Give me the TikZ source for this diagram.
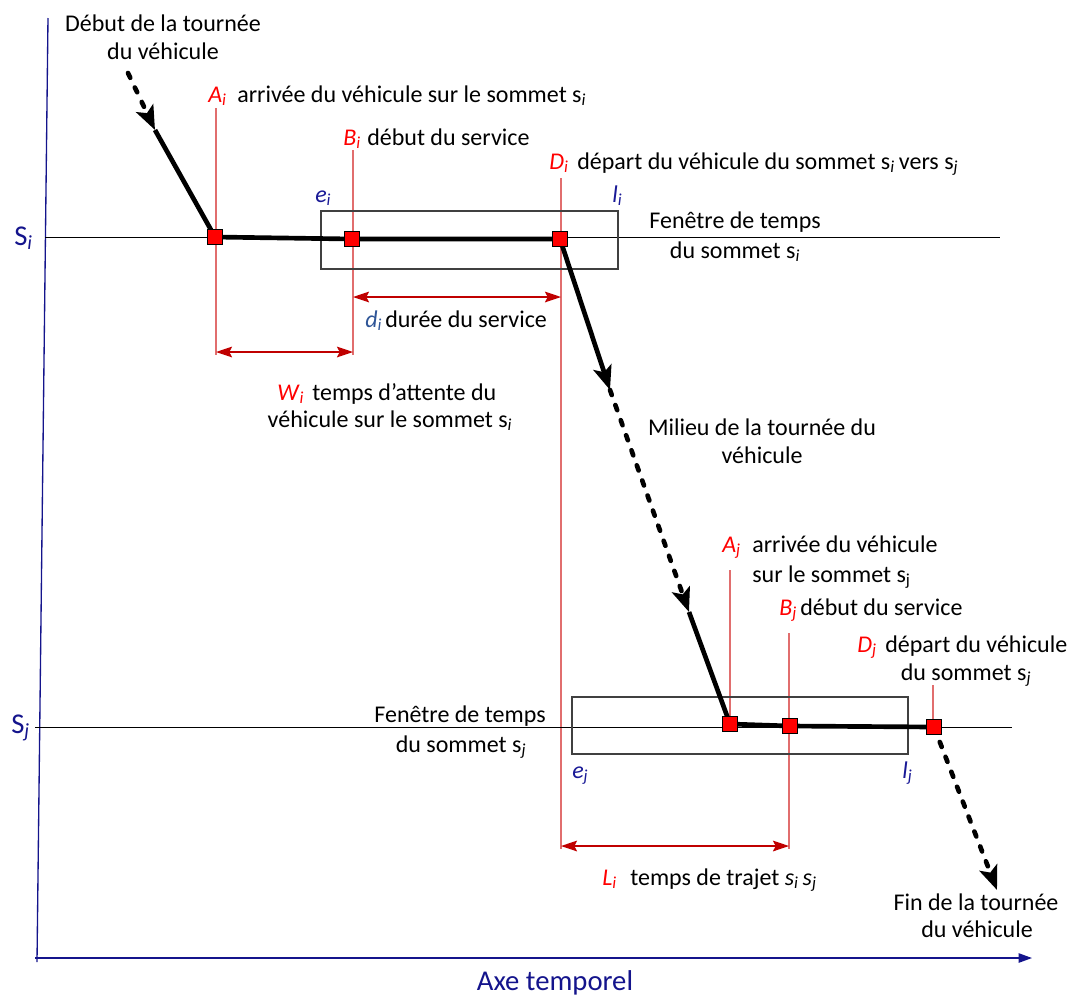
\documentclass[tikz,border=0pt]{standalone}
\usepackage{fontspec}
\setmainfont{Carlito}
\usetikzlibrary{arrows.meta}
\definecolor{axisblue}{RGB}{20,20,140}
\definecolor{lblue}{RGB}{25,25,150}
\definecolor{dblue}{RGB}{47,85,151}
\definecolor{lred}{RGB}{255,0,0}
\definecolor{guidered}{RGB}{225,110,110}
\definecolor{dimred}{RGB}{192,0,0}
\newcommand{\vsub}[2]{\textit{#1}\textsubscript{\textit{#2}}}
\pgfdeclarelayer{background}
\pgfsetlayers{background,main}
\begin{document}
\begin{tikzpicture}[x=0.75pt,y=-0.75pt,
  txt/.style={inner sep=0pt, font=\fontsize{18}{21}\selectfont},
  big/.style={inner sep=0pt, font=\fontsize{21.5}{25}\selectfont, text=axisblue},
  sq/.style={draw=black, fill=red, minimum size=11.5pt, inner sep=0pt, line width=0.8pt},
  route/.style={line width=3.5pt},
  dashroute/.style={line width=3.5pt, dash pattern=on 4pt off 8pt, line cap=round},
  tipb/.style={-{Stealth[length=18pt,width=14pt,inset=4pt]}},
  guide/.style={draw=guidered, line width=0.8pt},
  dim/.style={draw=dimred, line width=1.3pt, {Stealth[length=12pt,width=8pt,inset=2pt]}-{Stealth[length=12pt,width=8pt,inset=2pt]}},
  win/.style={draw=black!75, line width=0.8pt},
  axis/.style={draw=axisblue, line width=1pt},
  level/.style={draw=black, line width=0.7pt}]
\useasboundingbox (0,0) rectangle (1070,997);

% squares (events)
\node[sq] (Ai) at (215,237) {};
\node[sq] (Bi) at (352,239) {};
\node[sq] (Di) at (560,239) {};
\node[sq] (Aj) at (730,724) {};
\node[sq] (Bj) at (790,726) {};
\node[sq] (Dj) at (934,727) {};

% helper coordinates
\coordinate (S0) at (128,73);
\coordinate (T0) at (155,130);
\coordinate (M1) at (610,390);
\coordinate (M2) at (689,612);
\coordinate (E0) at (997,890);

\begin{pgfonlayer}{background}
% axes
\coordinate (Otop) at (48,18);
\coordinate (Obot) at (37,962);
\coordinate (Xl) at (35,958);
\coordinate (Xr) at (1032,958);
\draw[axis] (Otop) -- (Obot);
\draw[axis, -{Triangle[length=10pt,width=7pt]}] (Xl) -- (Xr);
% guide lines
\coordinate (gAi1) at (216,108); \coordinate (gAi2) at (216,355);
\coordinate (gBi1) at (353,150); \coordinate (gBi2) at (353,355);
\coordinate (gDi1) at (561,178); \coordinate (gDi2) at (561,849);
\coordinate (gAj1) at (730,570); \coordinate (gAj2) at (730,724);
\coordinate (gBj1) at (789,633); \coordinate (gBj2) at (789,849);
\coordinate (gDj1) at (933,685); \coordinate (gDj2) at (933,727);
\draw[guide] (gAi1) -- (gAi2);
\draw[guide] (gBi1) -- (gBi2);
\draw[guide] (gDi1) -- (gDi2);
\draw[guide] (gAj1) -- (gAj2);
\draw[guide] (gBj1) -- (gBj2);
\draw[guide] (gDj1) -- (gDj2);
% level lines
\coordinate (Li1) at (45,237); \coordinate (Li2) at (1000,237);
\coordinate (Lj1) at (35,727); \coordinate (Lj2) at (1012,727);
\draw[level] (Li1) -- (Li2);
\draw[level] (Lj1) -- (Lj2);
% time windows
\draw[win] (321,211) rectangle (618,269);
\draw[win] (572,697) rectangle (908,754);
% route
\draw[dashroute, tipb] (S0) -- (T0);
\draw[route] (T0) -- (Ai.center);
\draw[route] (Ai.center) -- (Bi.center) -- (Di.center);
\draw[route, tipb] (Di.center) -- (M1);
\draw[dashroute, tipb] (M1) -- (M2);
\draw[route] (M2) -- (Aj.center);
\draw[route] (Aj.center) -- (Bj.center) -- (Dj.center);
\draw[dashroute, tipb] (Dj.center) -- (E0);
\end{pgfonlayer}

% dimension arrows
\coordinate (wA) at (216,352); \coordinate (wB) at (353,352);
\coordinate (dA) at (353,297); \coordinate (dB) at (561,297);
\coordinate (lA) at (561,846); \coordinate (lB) at (789,846);
\draw[dim] (wA) -- (wB);
\draw[dim] (dA) -- (dB);
\draw[dim] (lA) -- (lB);

% texts
\node[txt, anchor=base] (deb1) at (163,31) {Début de la tournée};
\node[txt, anchor=base] (deb2) at (163,59) {du véhicule};

\node[txt, anchor=base west, text=lred] (lAi) at (208,102) {\vsub{A}{i}};
\node[txt, anchor=base west] (tAi) at (237,102) {arrivée du véhicule sur le sommet s\textsubscript{\textit{i}}};
\node[txt, anchor=base west, text=lred] (lBi) at (343,145) {\vsub{B}{i}};
\node[txt, anchor=base west] (tBi) at (367,145) {début du service};
\node[txt, anchor=base west, text=lred] (lDi) at (549,169) {\vsub{D}{i}};
\node[txt, anchor=base west] (tDi) at (577,169) {départ du véhicule du sommet s\textsubscript{\textit{i}}\,vers s\textsubscript{\textit{j}}};

\node[txt, anchor=base west, text=lblue] (ei) at (315,202) {\vsub{e}{i}};
\node[txt, anchor=base west, text=lblue] (li) at (612,202) {\vsub{l}{i}};

\node[txt, anchor=base] (fi1) at (735,228) {Fenêtre de temps};
\node[txt, anchor=base] (fi2) at (735,258) {du sommet s\textsubscript{\textit{i}}};

\node[txt, anchor=base west, text=dblue] (ldi) at (365,327) {\vsub{d}{i}};
\node[txt, anchor=base west] (tdi) at (385,327) {durée du service};

\node[txt, anchor=base west, text=lred] (lWi) at (277,400) {\vsub{W}{i}};
\node[txt, anchor=base west] (tWi1) at (312,400) {temps d’attente du};
\node[txt, anchor=base] (tWi2) at (390,427) {véhicule sur le sommet s\textsubscript{\textit{i}}};

\node[txt, anchor=base] (mil1) at (762,435) {Milieu de la tournée du};
\node[txt, anchor=base] (mil2) at (762,463) {véhicule};

\node[txt, anchor=base west, text=lred] (lAj) at (722,552) {\vsub{A}{j}};
\node[txt, anchor=base west] (tAj1) at (752,552) {arrivée du véhicule};
\node[txt, anchor=base west] (tAj2) at (752,582) {sur le sommet s\textsubscript{j}};

\node[txt, anchor=base west, text=lred] (lBj) at (779,615) {\vsub{B}{j}};
\node[txt, anchor=base west] (tBj) at (800,615) {début du service};

\node[txt, anchor=base west, text=lred] (lDj) at (857,652) {\vsub{D}{j}};
\node[txt, anchor=base west] (tDj1) at (885,652) {départ du véhicule};
\node[txt, anchor=base] (tDj2) at (966,680) {du sommet s\textsubscript{\textit{j}}};

\node[txt, anchor=base] (fj1) at (460,722) {Fenêtre de temps};
\node[txt, anchor=base] (fj2) at (461,752) {du sommet s\textsubscript{\textit{j}}};

\node[txt, anchor=base west, text=lblue] (ej) at (572,778) {\vsub{e}{j}};
\node[txt, anchor=base west, text=lblue] (lj) at (902,778) {\vsub{l}{j}};

\node[txt, anchor=base west, text=lred] (lLi) at (602,885) {\vsub{L}{i}};
\node[txt, anchor=base west] (tLi) at (630,885) {temps de trajet \textit{s\textsubscript{i}\,s\textsubscript{j}}};

\node[txt, anchor=base] (fin1) at (976,910) {Fin de la tournée};
\node[txt, anchor=base] (fin2) at (977,937) {du véhicule};

\node[big, anchor=base] (axe) at (555,990) {Axe temporel};
\node[big, anchor=base west] (Si) at (14,245) {S\textsubscript{\textit{i}}};
\node[big, anchor=base west] (Sj) at (11,733) {S\textsubscript{\textit{j}}};
\end{tikzpicture}
\end{document}
